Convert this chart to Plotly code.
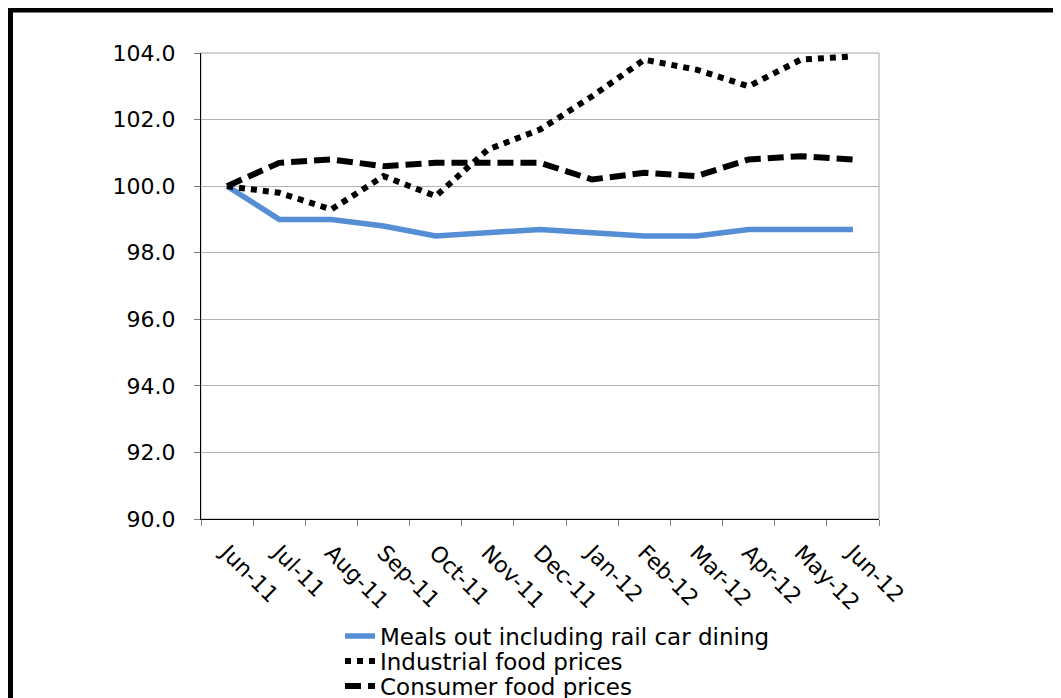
import plotly.graph_objects as go

months = ["Jun-11", "Jul-11", "Aug-11", "Sep-11", "Oct-11", "Nov-11", "Dec-11",
          "Jan-12", "Feb-12", "Mar-12", "Apr-12", "May-12", "Jun-12"]
meals_out = [100.0, 99.0, 99.0, 98.8, 98.5, 98.6, 98.7, 98.6, 98.5, 98.5, 98.7, 98.7, 98.7]
industrial = [100.0, 99.8, 99.3, 100.3, 99.7, 101.1, 101.7, 102.7, 103.8, 103.5, 103.0, 103.8, 103.9]
consumer = [100.0, 100.7, 100.8, 100.6, 100.7, 100.7, 100.7, 100.2, 100.4, 100.3, 100.8, 100.9, 100.8]
y_ticks = [90, 92, 94, 96, 98, 100, 102, 104]
y_labels = ["90.0", "92.0", "94.0", "96.0", "98.0", "100.0", "102.0", "104.0"]

names = ["Meals out including rail car dining", "Industrial food prices", "Consumer food prices"]

# page body has an 8px margin: figure origin sits at (8, 8) in the window
OFF = 8
W, H = 1053, 690
L, T = 201 - OFF, 53 - OFF
pw, ph = 678, 466
R, B = W - L - pw, H - T - ph

fig = go.Figure()
fig.add_trace(go.Scatter(x=months, y=meals_out, mode="lines", name=names[0],
                         legend="legend",
                         line=dict(color="#558ED5", width=5.5)))
fig.add_trace(go.Scatter(x=months, y=industrial, mode="lines", name=names[1],
                         legend="legend2",
                         line=dict(color="#000000", width=6, dash="dot")))
fig.add_trace(go.Scatter(x=months, y=consumer, mode="lines", name=names[2],
                         legend="legend3",
                         line=dict(color="#000000", width=6, dash="16px,7px")))

font = "DejaVu Sans, Verdana, sans-serif"

def px_x(p):
    # p: figure pixel x
    return (p - L) / pw

def px_y(p):
    # p: figure pixel y (from top)
    return (H - B - p) / ph

def leg(cy):
    # cy: window pixel y of the legend row centre
    return dict(orientation="v", xref="container", yref="container",
                x=(340 - OFF) / W, y=1 - (cy - OFF) / H,
                xanchor="left", yanchor="middle",
                font=dict(family=font, size=23, color="black"),
                bgcolor="rgba(0,0,0,0)", borderwidth=0)

fig.update_layout(
    width=W, height=H,
    margin=dict(l=L, r=R, t=T, b=B, pad=0, autoexpand=False),
    paper_bgcolor="white", plot_bgcolor="white",
    font=dict(family=font, size=22, color="black"),
    showlegend=True,
    legend=leg(636),
    legend2=leg(661),
    legend3=leg(686),
    xaxis=dict(type="category", categoryorder="array", categoryarray=months,
               range=[-0.5, len(months) - 0.5], automargin=False,
               showgrid=False, showline=True, linecolor="black", linewidth=1,
               ticks="outside", tickson="boundaries", ticklen=6, tickcolor="#808080",
               tickangle=45, ticklabelstandoff=11,
               tickfont=dict(family=font, size=22, color="black"),
               zeroline=False, fixedrange=True),
    yaxis=dict(range=[90, 104], tickvals=y_ticks, ticktext=y_labels, automargin=False,
               showgrid=True, gridcolor="#B3B3B3", gridwidth=1,
               showline=True, linecolor="black", linewidth=1,
               ticks="outside", ticklen=6, tickcolor="#808080",
               ticklabelstandoff=14,
               tickfont=dict(family=font, size=22, color="black"),
               zeroline=False, fixedrange=True),
    shapes=[
        dict(type="rect", xref="paper", yref="paper", x0=0, x1=1, y0=0, y1=1,
             line=dict(color="#A6A6A6", width=1), layer="below"),
        dict(type="rect", xref="paper", yref="paper",
             x0=px_x(10.5 - OFF), x1=px_x(1100), y0=px_y(760), y1=px_y(10 - OFF),
             line=dict(color="black", width=5)),
    ],
)

fig.write_html("out.html")
